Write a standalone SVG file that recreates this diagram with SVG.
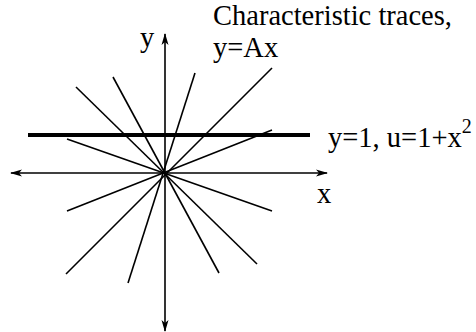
<svg xmlns="http://www.w3.org/2000/svg" width="476" height="332" viewBox="0 0 476 332">
<style>
.t{font-family:"Liberation Serif","Times New Roman",serif;font-size:28.5px;fill:#000}
.ax{stroke:#000;stroke-width:1.6;fill:none}
.ray{stroke:#000;stroke-width:1.6;fill:none}
.thick{stroke:#000;stroke-width:4;fill:none}
</style>
<defs>
<marker id="ah" viewBox="0 0 12 8" refX="11" refY="4" markerWidth="12" markerHeight="8" markerUnits="userSpaceOnUse" orient="auto">
<path d="M0,0.5 L12,4 L0,7.5 L3,4 Z" fill="#000"/>
</marker>
</defs>
<g id="connectors">
<line class="ax" x1="165" y1="173" x2="165" y2="34" marker-end="url(#ah)"/>
<line class="ax" x1="165" y1="173" x2="165" y2="331" marker-end="url(#ah)"/>
<line class="ax" x1="165" y1="173" x2="11" y2="173" marker-end="url(#ah)"/>
<line class="ax" x1="165" y1="173" x2="327" y2="173" marker-end="url(#ah)"/>
<line class="ray" x1="76" y1="87" x2="257" y2="264"/>
<line class="ray" x1="113" y1="77" x2="219" y2="273"/>
<line class="ray" x1="195" y1="73" x2="128" y2="283"/>
<line class="ray" x1="272" y1="68" x2="66" y2="274"/>
<line class="ray" x1="67" y1="139" x2="272" y2="211"/>
<line class="ray" x1="272" y1="130" x2="67" y2="211"/>
<line class="thick" x1="28" y1="135" x2="310" y2="135"/>
</g>
<g id="labels">
<text class="t" x="213" y="25">Characteristic traces,</text>
<text class="t" x="213" y="57">y=Ax</text>
<text class="t" x="140" y="47">y</text>
<text class="t" x="317" y="203">x</text>
<text class="t" x="328" y="147">y=1, u=1+x<tspan font-size="20" dy="-14">2</tspan></text>
</g>
</svg>
